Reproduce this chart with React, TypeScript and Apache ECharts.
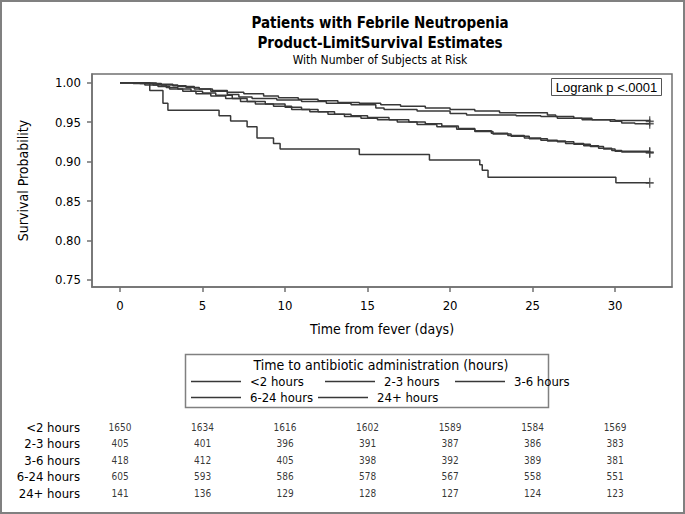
import React, { useEffect, useRef } from 'react';
import * as echarts from 'echarts';

const groups = ['<2 hours', '2-3 hours', '3-6 hours', '6-24 hours', '24+ hours'];

// Kaplan-Meier step curves (time in days, survival probability)
const tLt2 = [0, 1.3, 2.2, 3.2, 4.0, 4.8, 5.6, 6.5, 7.5, 8.7, 9.6, 10.8, 12.0, 13.2, 14.5, 15.8, 17.0, 18.5, 20.0, 21.5, 23.0, 25.9, 26.4, 27.5, 28.6, 29.7, 30.4, 31.2, 32.1];
const sLt2 = [1, 0.9995, 0.998, 0.996, 0.994, 0.992, 0.990, 0.988, 0.986, 0.983, 0.981, 0.979, 0.977, 0.975, 0.974, 0.972, 0.970, 0.968, 0.966, 0.964, 0.962, 0.959, 0.957, 0.955, 0.953, 0.951, 0.949, 0.948, 0.948];

const t2to3 = [0, 1.5, 2.5, 3.5, 4.5, 5.5, 6.5, 7.2, 8.0, 9.5, 11.0, 12.5, 14.0, 15.5, 16.0, 18.0, 20.0, 21.0, 24.0, 25.5, 26.5, 28.0, 30.0, 32.1];
const s2to3 = [1, 0.999, 0.997, 0.995, 0.992, 0.989, 0.985, 0.982, 0.980, 0.978, 0.976, 0.974, 0.972, 0.968, 0.966, 0.964, 0.961, 0.959, 0.958, 0.957, 0.955, 0.953, 0.952, 0.951];

const t3to6 = [0, 1.2, 2.0, 2.8, 3.5, 4.3, 5.0, 5.8, 6.8, 7.7, 8.8, 10.0, 11.0, 12.0, 13.0, 14.0, 15.0, 16.3, 17.5, 18.5, 19.5, 20.5, 21.5, 22.5, 23.5, 24.5, 25.5, 26.5, 27.5, 28.5, 29.3, 30.0, 32.1];
const s3to6 = [1, 0.999, 0.997, 0.994, 0.992, 0.989, 0.987, 0.984, 0.980, 0.976, 0.973, 0.969, 0.966, 0.963, 0.960, 0.958, 0.956, 0.953, 0.950, 0.948, 0.945, 0.942, 0.939, 0.936, 0.933, 0.930, 0.927, 0.925, 0.922, 0.919, 0.916, 0.913, 0.912];

const t6to24 = [0, 0.8, 1.5, 2.3, 3.0, 3.8, 4.6, 5.5, 6.4, 7.3, 8.2, 9.3, 10.4, 11.5, 12.6, 13.6, 14.6, 15.6, 16.8, 18.0, 19.2, 20.4, 21.5, 22.6, 23.7, 24.8, 25.9, 27.0, 28.1, 29.0, 29.8, 30.4, 32.1];
const s6to24 = [1, 0.999, 0.997, 0.995, 0.992, 0.989, 0.986, 0.983, 0.980, 0.976, 0.973, 0.970, 0.966, 0.963, 0.960, 0.957, 0.955, 0.953, 0.950, 0.947, 0.944, 0.941, 0.938, 0.935, 0.932, 0.929, 0.926, 0.923, 0.920, 0.917, 0.914, 0.912, 0.911];

const t24plus = [0, 1.8, 2.6, 2.9, 6.0, 6.7, 7.7, 8.3, 9.3, 9.7, 14.5, 18.75, 21.8, 21.95, 22.3, 30.05, 32.1];
const s24plus = [1, 0.99, 0.974, 0.965, 0.958, 0.9515, 0.944, 0.930, 0.923, 0.916, 0.909, 0.902, 0.896, 0.889, 0.880, 0.873, 0.873];

// Number of subjects at risk
const riskTimes = [0, 5, 10, 15, 20, 25, 30];
const riskLt2 = [1650, 1634, 1616, 1602, 1589, 1584, 1569];
const risk2to3 = [405, 401, 396, 391, 387, 386, 383];
const risk3to6 = [418, 412, 405, 398, 392, 389, 381];
const risk6to24 = [605, 593, 586, 578, 567, 558, 551];
const risk24plus = [141, 136, 129, 128, 127, 124, 123];

const xTicks = [0, 5, 10, 15, 20, 25, 30];
const yTicks = [0.75, 0.8, 0.85, 0.9, 0.95, 1.0];

const FONT = '"DejaVu Sans Condensed", "DejaVu Sans", sans-serif';
const LINE = '#383838';
const AX = '#707070';

export default function App() {
  const ref = useRef<HTMLDivElement>(null);
  useEffect(() => {
    if (!ref.current) return;
    const chart = echarts.init(ref.current, undefined, { renderer: 'svg' });
    const curves = [
      [tLt2, sLt2],
      [t2to3, s2to3],
      [t3to6, s3to6],
      [t6to24, s6to24],
      [t24plus, s24plus],
    ];
    const risks = [riskLt2, risk2to3, risk3to6, risk6to24, risk24plus];

    const lineSeries = curves.map(([t, s], i) => ({
      type: 'line',
      name: groups[i],
      xAxisIndex: 0,
      yAxisIndex: 0,
      step: 'end',
      showSymbol: false,
      symbol: 'none',
      color: LINE,
      lineStyle: { color: LINE, width: 1.5 },
      itemStyle: { color: LINE },
      data: t.map((x, k) => [x, s[k]]),
      silent: true,
      z: 3,
    }));

    const endPoints = curves.map(([t, s]) => [t[t.length - 1], s[s.length - 1]]);

    const riskData: any[] = [];
    risks.forEach((arr, gi) => {
      arr.forEach((n, k) => riskData.push([riskTimes[k], gi, n]));
    });

    const legendLefts = [191, 325, 455, 191, 318];
    const legendTops = [375, 375, 375, 391, 391];

    const option: any = {
      animation: false,
      textStyle: { fontFamily: FONT },
      title: [
        { text: 'Patients with Febrile Neutropenia', left: 380, top: 15, textAlign: 'center', padding: 0,
          textStyle: { fontSize: 15, fontWeight: 'bold', color: '#000', fontFamily: FONT } },
        { text: 'Product-LimitSurvival Estimates', left: 380, top: 35, textAlign: 'center', padding: 0,
          textStyle: { fontSize: 15, fontWeight: 'bold', color: '#000', fontFamily: FONT } },
        { text: 'With Number of Subjects at Risk', left: 380, top: 54, textAlign: 'center', padding: 0,
          textStyle: { fontSize: 12, fontWeight: 'normal', color: '#000', fontFamily: FONT } },
      ],
      grid: [
        { left: 92, top: 74, width: 580, height: 213, show: true, borderColor: AX, borderWidth: 1.5, backgroundColor: 'transparent' },
        { left: 92, top: 418.75, width: 580, height: 82.5 },
      ],
      xAxis: [
        {
          type: 'value', gridIndex: 0, min: -1.7, max: 33.45,
          name: 'Time from fever (days)', nameLocation: 'middle', nameGap: 35,
          nameTextStyle: { fontSize: 14, color: '#000', fontFamily: FONT },
          axisLine: { show: true, onZero: false, lineStyle: { color: AX, width: 1.5 } },
          axisTick: { show: true, length: 5, lineStyle: { color: AX, width: 1.5 }, customValues: xTicks },
          axisLabel: { fontSize: 13, color: '#000', margin: 12, customValues: xTicks, fontFamily: FONT },
          splitLine: { show: false },
        },
        { type: 'value', gridIndex: 1, min: -1.7, max: 33.45, show: false },
      ],
      yAxis: [
        {
          type: 'value', gridIndex: 0, min: 0.741, max: 1.011,
          name: 'Survival Probability', nameLocation: 'middle', nameGap: 62,
          nameTextStyle: { fontSize: 14, color: '#000', fontFamily: FONT },
          axisLine: { show: true, onZero: false, lineStyle: { color: AX, width: 1.5 } },
          axisTick: { show: true, length: 5, lineStyle: { color: AX, width: 1.5 }, customValues: yTicks },
          axisLabel: { fontSize: 13, color: '#000', margin: 11, customValues: yTicks, fontFamily: FONT,
            formatter: (v: number) => v.toFixed(2) },
          splitLine: { show: false },
        },
        {
          type: 'category', gridIndex: 1, data: groups, inverse: true,
          axisLine: { show: false, onZero: false }, axisTick: { show: false }, splitLine: { show: false },
          axisLabel: { fontSize: 13, color: '#000', margin: 12, interval: 0, fontFamily: FONT },
        },
      ],
      legend: legendLefts.map((l, i) => ({
        data: [groups[i]],
        left: l,
        top: legendTops[i],
        padding: 0,
        icon: 'rect',
        itemWidth: 50,
        itemHeight: 1.5,
        selectedMode: false,
        textStyle: { fontSize: 13, color: '#000', fontFamily: FONT, padding: [0, 0, 0, 4] },
      })),
      graphic: [
        { type: 'rect', shape: { x: 1, y: 1, width: 683, height: 512 }, style: { fill: 'none', stroke: '#808080', lineWidth: 2 }, silent: true },
        { type: 'rect', shape: { x: 551.5, y: 78.5, width: 110, height: 17 }, style: { fill: '#fff', stroke: '#555', lineWidth: 1 }, z: 10, silent: true },
        { type: 'text', x: 606.5, y: 87, style: { text: 'Logrank p <.0001', fontSize: 13, fill: '#000', font: '13px ' + FONT, textAlign: 'center', textVerticalAlign: 'middle' }, z: 11, silent: true },
        { type: 'rect', shape: { x: 185.5, y: 354.5, width: 363, height: 53 }, style: { fill: 'none', stroke: '#808080', lineWidth: 1.5 }, silent: true },
        { type: 'text', x: 381, y: 365, style: { text: 'Time to antibiotic administration (hours)', font: '14px ' + FONT, fill: '#000', textAlign: 'center', textVerticalAlign: 'middle' }, silent: true },
      ],
      series: [
        ...lineSeries,
        {
          type: 'scatter', name: 'censor', xAxisIndex: 0, yAxisIndex: 0,
          symbol: 'path://M4.2,0H5.8V4.2H10V5.8H5.8V10H4.2V5.8H0V4.2H4.2Z',
          symbolSize: [8, 10],
          itemStyle: { color: LINE },
          data: endPoints, silent: true, z: 4,
        },
        {
          type: 'scatter', name: 'risk', xAxisIndex: 1, yAxisIndex: 1,
          symbolSize: 1, itemStyle: { color: 'rgba(0,0,0,0)' },
          label: { show: true, position: 'inside', formatter: (p: any) => String(p.value[2]), fontSize: 10, color: '#000', fontFamily: FONT },
          data: riskData, silent: true,
        },
      ],
    };
    chart.setOption(option);
    return () => chart.dispose();
  }, []);
  return <div ref={ref} style={{ position: 'fixed', left: 0, top: 0, width: 685, height: 514, background: '#fff' }} />;
}
